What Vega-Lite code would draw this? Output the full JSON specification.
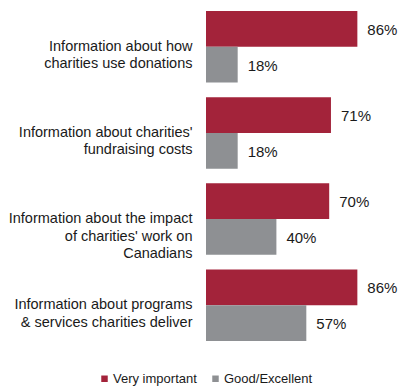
{
  "$schema": "https://vega.github.io/schema/vega-lite/v6.json",
  "width": 176,
  "height": 330,
  "autosize": "none",
  "padding": {"left": 206, "top": 11, "right": 18, "bottom": 47},
  "config": {"view": {"stroke": null}, "font": "Liberation Sans"},
  "data": {
    "values": [
      {"category": "Information about how|charities use donations", "series": "Very important", "value": 0.86},
      {"category": "Information about how|charities use donations", "series": "Good/Excellent", "value": 0.18},
      {"category": "Information about charities'|fundraising costs", "series": "Very important", "value": 0.71},
      {"category": "Information about charities'|fundraising costs", "series": "Good/Excellent", "value": 0.18},
      {"category": "Information about the impact|of charities' work on|Canadians", "series": "Very important", "value": 0.70},
      {"category": "Information about the impact|of charities' work on|Canadians", "series": "Good/Excellent", "value": 0.40},
      {"category": "Information about programs|& services charities deliver", "series": "Very important", "value": 0.86},
      {"category": "Information about programs|& services charities deliver", "series": "Good/Excellent", "value": 0.57}
    ]
  },
  "encoding": {
    "y": {
      "field": "category",
      "type": "nominal",
      "sort": null,
      "scale": {"paddingInner": 0.171, "paddingOuter": 0},
      "axis": {
        "title": null,
        "domain": false,
        "ticks": false,
        "labelExpr": "split(datum.label, '|')",
        "labelFontSize": 14.5,
        "labelLineHeight": 17.5,
        "labelPadding": 14,
        "labelColor": "#1a1a1a",
        "labelLimit": 300
      }
    },
    "yOffset": {
      "field": "series",
      "type": "nominal",
      "sort": ["Very important", "Good/Excellent"],
      "scale": {"paddingInner": 0, "paddingOuter": 0}
    },
    "x": {
      "field": "value",
      "type": "quantitative",
      "scale": {"domain": [0, 1]},
      "axis": null
    }
  },
  "layer": [
    {
      "mark": {"type": "bar"},
      "encoding": {
        "color": {
          "field": "series",
          "type": "nominal",
          "sort": ["Very important", "Good/Excellent"],
          "scale": {"domain": ["Very important", "Good/Excellent"], "range": ["#A3233A", "#8E9093"]},
          "legend": {
            "title": null,
            "orient": "none",
            "direction": "horizontal",
            "legendX": -108,
            "legendY": 361,
            "symbolType": "square",
            "symbolSize": 42,
            "symbolStrokeWidth": 0,
            "labelFontSize": 13,
            "labelColor": "#1a1a1a",
            "labelOffset": 2,
            "columnPadding": 12
          }
        }
      }
    },
    {
      "mark": {"type": "text", "align": "left", "baseline": "middle", "dx": 10, "dy": 1, "fontSize": 15, "color": "#1a1a1a"},
      "encoding": {
        "text": {"field": "value", "type": "quantitative", "format": ".0%"},
        "detail": {"field": "series"}
      }
    }
  ]
}
